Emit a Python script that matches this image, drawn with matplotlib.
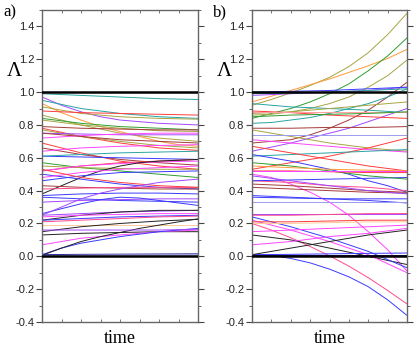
import matplotlib
matplotlib.use("Agg")
import matplotlib.pyplot as plt
from matplotlib.ticker import MultipleLocator

# ---------------- data ----------------
TIME5 = [0.0, 0.25, 0.5, 0.75, 1.0]
TIME9 = [0.0, 0.125, 0.25, 0.375, 0.5, 0.625, 0.75, 0.875, 1.0]
YTICKS = [-0.4, -0.2, 0.0, 0.2, 0.4, 0.6, 0.8, 1.0, 1.2, 1.4]
YTICK_LABELS = ["-0.4", "-0.2", "0.0", "0.2", "0.4", "0.6", "0.8", "1.0", "1.2", "1.4"]
PANEL_LABELS = ["a)", "b)"]

TEAL, PURPLE, ORANGE, OLIVE, RED = "#2aa3a3", "#a347ff", "#ff9a3a", "#a8a443", "#ff3c3c"
GREEN, BROWN, MAGENTA, BLUE, PINK = "#2f9e2f", "#a53a3a", "#ff45ff", "#3a3aff", "#ff4a8c"
PEACH, NAVY, PALEBLUE, BLACK, PALEPINK = "#ffcc99", "#1a1a8c", "#9b9bf0", "#222222", "#ff9e9e"

a_colors = [TEAL, PURPLE, TEAL, ORANGE, OLIVE, RED, OLIVE, GREEN, OLIVE, BROWN,
            RED, OLIVE, PURPLE, MAGENTA, RED, BROWN, MAGENTA, BLUE, TEAL, GREEN,
            OLIVE, RED, MAGENTA, BLACK, BLUE, MAGENTA, BLUE, BROWN, PINK, RED,
            BLUE, BLUE, PURPLE, BLUE, PURPLE, PURPLE, BLACK, MAGENTA, BLUE, PINK,
            PEACH, BLACK, BLACK, MAGENTA, BLUE, BLACK, NAVY, PALEBLUE, PURPLE, BROWN]
a_values = [
    [0.99, 0.98, 0.97, 0.96, 0.955],
    [0.97, 0.92, 0.88, 0.85, 0.83, 0.82, 0.81, 0.805, 0.80],
    [0.95, 0.90, 0.87, 0.85, 0.84],
    [0.93, 0.875, 0.83, 0.79, 0.76, 0.73, 0.70, 0.68, 0.67],
    [0.91, 0.87, 0.85, 0.84, 0.835],
    [0.885, 0.875, 0.87, 0.865, 0.86],
    [0.86, 0.80, 0.75, 0.72, 0.70],
    [0.84, 0.81, 0.79, 0.78, 0.77],
    [0.83, 0.80, 0.78, 0.765, 0.76],
    [0.79, 0.78, 0.775, 0.77, 0.77],
    [0.78, 0.73, 0.69, 0.66, 0.645],
    [0.77, 0.73, 0.70, 0.675, 0.66],
    [0.75, 0.745, 0.74, 0.74, 0.74],
    [0.72, 0.735, 0.745, 0.75, 0.75],
    [0.69, 0.63, 0.58, 0.55, 0.53],
    [0.66, 0.62, 0.59, 0.57, 0.555],
    [0.64, 0.66, 0.67, 0.675, 0.68],
    [0.61, 0.605, 0.60, 0.595, 0.59],
    [0.61, 0.62, 0.63, 0.635, 0.64],
    [0.57, 0.54, 0.52, 0.50, 0.48],
    [0.55, 0.54, 0.535, 0.53, 0.53],
    [0.52, 0.55, 0.57, 0.58, 0.59],
    [0.52, 0.55, 0.565, 0.575, 0.58],
    [0.38, 0.43, 0.48, 0.52, 0.55, 0.57, 0.58, 0.585, 0.59],
    [0.50, 0.47, 0.44, 0.42, 0.41],
    [0.48, 0.51, 0.53, 0.54, 0.55],
    [0.46, 0.49, 0.51, 0.515, 0.52],
    [0.43, 0.42, 0.415, 0.41, 0.41],
    [0.41, 0.415, 0.42, 0.42, 0.42],
    [0.53, 0.48, 0.45, 0.43, 0.42],
    [0.37, 0.38, 0.385, 0.385, 0.38],
    [0.36, 0.35, 0.34, 0.335, 0.33],
    [0.33, 0.34, 0.345, 0.35, 0.35],
    [0.26, 0.29, 0.32, 0.345, 0.36, 0.355, 0.34, 0.325, 0.31],
    [0.25, 0.30, 0.35, 0.385, 0.41, 0.43, 0.45, 0.46, 0.47],
    [0.25, 0.26, 0.27, 0.275, 0.28],
    [0.22, 0.25, 0.27, 0.28, 0.28],
    [0.24, 0.25, 0.255, 0.26, 0.26],
    [0.22, 0.23, 0.24, 0.245, 0.25],
    [0.21, 0.22, 0.23, 0.24, 0.245],
    [0.19, 0.19, 0.19, 0.19, 0.19],
    [0.15, 0.18, 0.20, 0.215, 0.225],
    [0.13, 0.14, 0.145, 0.15, 0.15],
    [0.07, 0.11, 0.13, 0.15, 0.16],
    [0.01, 0.05, 0.08, 0.10, 0.12, 0.135, 0.15, 0.16, 0.17],
    [0.006, 0.05, 0.09, 0.12, 0.145, 0.17, 0.19, 0.21, 0.228],
    [0.01, 0.012, 0.013, 0.014, 0.015],
    [0.005, 0.007, 0.008, 0.008, 0.008],
    [0.16, 0.16, 0.16, 0.16, 0.165],
    [0.75, 0.73, 0.71, 0.70, 0.69],
]

b_colors = [OLIVE, ORANGE, GREEN, OLIVE, BROWN, PURPLE, PURPLE, BLUE, TEAL, TEAL,
            TEAL, OLIVE, RED, PALEPINK, GREEN, BROWN, OLIVE, PALEBLUE, MAGENTA, RED,
            TEAL, RED, BLUE, MAGENTA, PINK, BLUE, BLACK, BLUE, MAGENTA, BLUE,
            NAVY, PURPLE, PINK, PEACH, RED, MAGENTA, MAGENTA, BLACK, BLUE, BLUE,
            PALEBLUE, BROWN, BROWN, PINK, BLUE, PURPLE, GREEN, ORANGE, RED, MAGENTA]
b_values = [
    [0.92, 0.955, 0.995, 1.04, 1.09, 1.155, 1.24, 1.35, 1.48],
    [0.94, 0.975, 1.01, 1.045, 1.08, 1.12, 1.16, 1.205, 1.26],
    [0.84, 0.87, 0.90, 0.94, 0.99, 1.05, 1.13, 1.22, 1.33],
    [0.86, 0.865, 0.88, 0.90, 0.93, 0.97, 1.03, 1.10, 1.195],
    [0.69, 0.70, 0.71, 0.74, 0.78, 0.83, 0.89, 0.97, 1.06],
    [0.64, 0.665, 0.69, 0.72, 0.75, 0.78, 0.82, 0.86, 0.90],
    [0.98, 0.99, 1.00, 1.01, 1.03],
    [1.00, 1.005, 1.01, 1.02, 1.03],
    [0.99, 0.995, 1.00, 1.01, 1.02],
    [0.93, 0.91, 0.90, 0.89, 0.875],
    [0.81, 0.815, 0.83, 0.845, 0.87, 0.90, 0.93, 0.97, 1.02],
    [0.87, 0.88, 0.90, 0.92, 0.94],
    [0.885, 0.875, 0.86, 0.85, 0.84],
    [0.88, 0.88, 0.88, 0.88, 0.88],
    [0.85, 0.86, 0.865, 0.87, 0.88],
    [0.78, 0.78, 0.785, 0.785, 0.79],
    [0.77, 0.73, 0.69, 0.66, 0.64],
    [0.74, 0.74, 0.74, 0.74, 0.74],
    [0.71, 0.69, 0.67, 0.65, 0.635],
    [0.53, 0.57, 0.61, 0.66, 0.72],
    [0.61, 0.62, 0.63, 0.64, 0.65],
    [0.67, 0.63, 0.59, 0.55, 0.52],
    [0.62, 0.60, 0.58, 0.555, 0.53, 0.50, 0.46, 0.43, 0.39],
    [0.50, 0.48, 0.44, 0.39, 0.33, 0.25, 0.15, 0.04, -0.09],
    [0.20, 0.16, 0.113, 0.06, 0.003, -0.06, -0.13, -0.208, -0.29],
    [0.01, 0.005, -0.013, -0.04, -0.078, -0.125, -0.185, -0.265, -0.36],
    [0.13, 0.10, 0.05, 0.00, -0.05],
    [0.24, 0.18, 0.11, 0.03, -0.07],
    [0.22, 0.16, 0.09, 0.01, -0.10],
    [0.01, 0.012, 0.015, 0.018, 0.02],
    [0.005, 0.005, 0.005, 0.005, 0.005],
    [0.26, 0.26, 0.26, 0.26, 0.26],
    [0.25, 0.25, 0.255, 0.26, 0.26],
    [0.20, 0.20, 0.205, 0.21, 0.21],
    [0.21, 0.21, 0.215, 0.22, 0.22],
    [0.15, 0.16, 0.17, 0.18, 0.19],
    [0.07, 0.09, 0.12, 0.14, 0.17],
    [0.01, 0.05, 0.09, 0.13, 0.16],
    [0.37, 0.36, 0.35, 0.34, 0.325],
    [0.36, 0.355, 0.35, 0.35, 0.35],
    [0.33, 0.33, 0.33, 0.33, 0.33],
    [0.42, 0.41, 0.40, 0.39, 0.385],
    [0.44, 0.43, 0.415, 0.40, 0.39],
    [0.46, 0.45, 0.43, 0.42, 0.40],
    [0.46, 0.465, 0.47, 0.475, 0.48],
    [0.49, 0.46, 0.43, 0.40, 0.38],
    [0.57, 0.55, 0.52, 0.49, 0.47],
    [0.55, 0.54, 0.53, 0.525, 0.52],
    [0.52, 0.52, 0.515, 0.51, 0.51],
    [0.52, 0.52, 0.52, 0.52, 0.52],
]

# ---------------- figure ----------------
SERIF = "Liberation Serif"
SANS = "Liberation Sans"
fig = plt.figure(figsize=(4.15, 3.51), dpi=100)
W, H = 415.0, 351.0
axes_px = [(42, 198), (252, 407)]
top_px, bot_px = 10, 322
panels = [(a_colors, a_values), (b_colors, b_values)]

for i, ((x0, x1), (cols, vals)) in enumerate(zip(axes_px, panels)):
    ax = fig.add_axes([x0 / W, 1 - bot_px / H, (x1 - x0) / W, (bot_px - top_px) / H])
    for c, v in zip(cols, vals):
        t = TIME9 if len(v) == len(TIME9) else TIME5
        ax.plot(t, v, color=c, lw=0.7, solid_capstyle="butt", solid_joinstyle="round")
    ax.axhline(0.0, color="black", lw=1.8, zorder=5)
    ax.axhline(1.0, color="black", lw=1.8, zorder=5)
    ax.set_xlim(0, 1)
    ax.set_ylim(-0.4, 1.5)
    ax.set_yticks(YTICKS)
    ax.set_yticklabels(YTICK_LABELS, fontfamily=SANS, fontsize=8, color="#222222")
    ax.yaxis.set_minor_locator(MultipleLocator(0.1))
    ax.xaxis.set_major_locator(MultipleLocator(0.125))
    ax.set_xticklabels([])
    ax.tick_params(axis="y", which="major", direction="out", length=4, width=0.8,
                   left=True, right=True, color="#444444", pad=1.5)
    ax.tick_params(axis="y", which="minor", direction="out", length=2, width=0.7,
                   left=True, right=True, color="#666666")
    ax.tick_params(axis="x", which="major", direction="in", length=2.5, width=0.7,
                   top=True, bottom=True, color="#777777")
    for s in ax.spines.values():
        s.set_color("#666666")
        s.set_linewidth(1.0)
    ax.set_xlabel("time", fontfamily=SERIF, fontsize=13, labelpad=2)
    fig.text((x0 - 39) / W, 1 - 12 / H, PANEL_LABELS[i], fontfamily=SERIF,
             fontsize=12, ha="left", va="center")
    fig.text((x0 - 28) / W, 1 - 71 / H, "Λ", fontfamily=SERIF, fontsize=15,
             ha="center", va="center")

fig.savefig("out.png", dpi=100)
